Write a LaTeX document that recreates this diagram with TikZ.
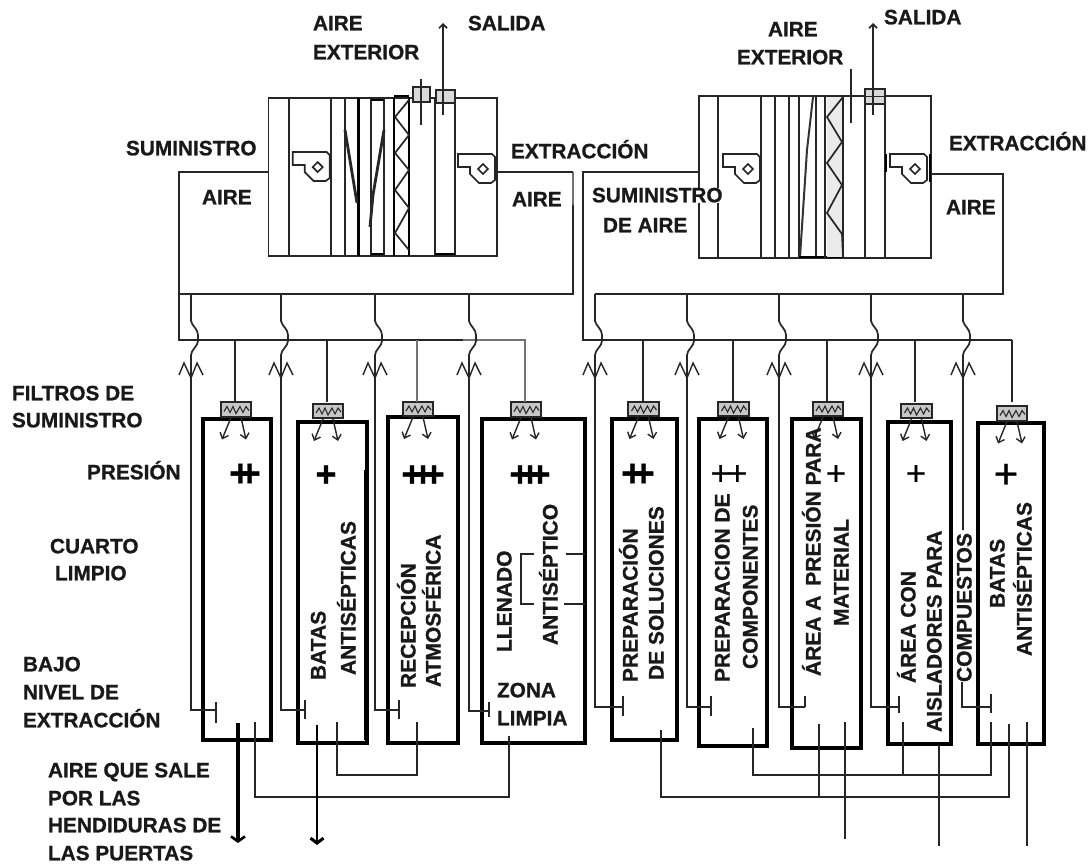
\documentclass[tikz,border=0pt]{standalone}
\usepackage{fontspec}
\setmainfont{Liberation Sans}[BoldFeatures={FakeBold=0.9}]
\usetikzlibrary{arrows.meta}
\tikzset{
  x=1pt,y=-1pt,
  lab/.style={inner sep=0pt,outer sep=0pt,anchor=base west,font=\fontsize{20.8}{20.8}\selectfont\bfseries,text=black!90},
  vlab/.style={inner sep=0pt,outer sep=0pt,anchor=base west,rotate=90,font=\fontsize{21}{21}\selectfont\bfseries,text=black!90},
  roombox/.style={draw=black,line width=3.6pt,inner sep=0pt,outer sep=0pt},
  filterbox/.style={draw=black!85,fill=black!22,line width=1.5pt,inner sep=0pt,outer sep=0pt},
  unitbox/.style={draw=black!85,line width=1.7pt,inner sep=0pt,outer sep=0pt},
  thinline/.style={draw=black!85,line width=1.7pt},
  fadedline/.style={draw=black!55,line width=1.7pt},
  sign/.style={inner sep=0pt,outer sep=0pt,anchor=center,text=black},
  branchtip/.style={-{Straight Barb[length=5pt,width=9pt]},draw=black!85,line width=1.4pt}
}
% name, x1, y1, x2, y2, style
\newcommand\boxnode[6]{\node[#6,minimum width={(#4-#2)*1pt},minimum height={(#5-#3)*1pt}] (#1) at ({(#2+#4)/2},{(#3+#5)/2}) {};}
% name, x, y, text
\newcommand\lbl[4]{\node[lab] (#1) at (#2,{#3+7.3}) {#4};}
% name, x centre, y bottom, text
\newcommand\vlbl[4]{\node[vlab] (#1) at ({#2+7.5},#3) {#4};}
% filter interior and its two outlets
\newcommand\filterdetail[1]{%
  \draw[draw=black!85,line width=1.1pt] ([shift={(-12,2)}]#1.center) -- ([shift={(-9,-3)}]#1.center) -- ([shift={(-6,3)}]#1.center) -- ([shift={(-3,-3)}]#1.center) -- ([shift={(0,4)}]#1.center) -- ([shift={(4,-3)}]#1.center) -- ([shift={(7,3)}]#1.center) -- ([shift={(10,-3)}]#1.center) -- ([shift={(13,1)}]#1.center);
  \draw[branchtip] ([shift={(-5,8)}]#1.center) -- ([shift={(-14,30)}]#1.center);
  \draw[branchtip] ([shift={(5,8)}]#1.center) -- ([shift={(10,30)}]#1.center);
}
% x origin, y origin
\newcommand\fan[2]{%
  \begin{scope}[shift={(#1,#2)}]
  \draw[thinline,fill=white] (0,0) -- (34,0) -- (37,3) -- (37,26) -- (33,29) -- (21,29) -- (12,20) -- (12,13) -- (0,13) -- cycle;
  \draw[thinline] (25,10) -- (30,15) -- (25,20) -- (20,15) -- cycle;
  \end{scope}}
\begin{document}
\begin{tikzpicture}
\useasboundingbox (0,0) rectangle (1090,865);
\fill[white] (0,0) rectangle (1090,865);

% ---- air handling units
\boxnode{ahua}{268.5}{98}{497}{256}{unitbox}
\boxnode{ahub}{699}{96}{931}{258}{unitbox}
\foreach \x in {289,331,345,371,384,435,455} \draw[thinline] (\x,98) -- (\x,256);
\draw[draw=black,line width=3pt] (358,98) -- (358,256);
\foreach \x in {394,409} \draw[draw=black,line width=2pt] (\x,97) -- (\x,256);
\draw[draw=black,line width=2.2pt] (394,96) -- (409,96);
\draw[draw=black,line width=2.2pt] (371,100) -- (384,100) (371,254) -- (384,254) (435,254) -- (455,254);
\draw[thinline] (409,100) -- (395,117) -- (409,135) -- (395,153) -- (409,170) -- (395,190) -- (409,208) -- (395,233) -- (409,250);
\draw[draw=black!85,line width=2.8pt] (345,130) -- (357,203);
\draw[draw=black!85,line width=2.8pt] (370,227) -- (373,195) -- (384,130);
\foreach \x in {718,761,775,789,799,816,825,843,865,885} \draw[thinline] (\x,96) -- (\x,258);
\draw[draw=black!80,line width=2pt] (813,97) -- (807,150) -- (800,257);
\draw[draw=black,line width=2pt] (799,257) -- (843,257);
\fill[black!8] (827,97) rectangle (842,257);
\draw[thinline] (825,96) -- (825,258) (843,96) -- (843,258);
\draw[thinline] (843,97) -- (827,117) -- (842,142) -- (827,163) -- (842,185) -- (827,213) -- (842,234) -- (843,257);
\fan{292.7}{152}
\fan{458}{154}
\fan{723}{154}
\fan{890}{154}
\draw[draw=black,line width=2.2pt] (886,154) -- (886,172);
\draw[draw=black,line width=2.8pt] (930,154) -- (930,182);

% ---- dampers, intake and outlet
\boxnode{dampa}{413}{87}{430}{102}{unitbox}
\boxnode{dampb}{436}{90}{455}{103}{unitbox}
\boxnode{dampc}{865}{89}{885}{104}{unitbox}
\fill[black!15] (dampa.south west) rectangle (dampa.north east);
\fill[black!15] (dampb.south west) rectangle (dampb.north east);
\fill[black!15] (dampc.south west) rectangle (dampc.north east);
\draw[unitbox] (dampa.south west) rectangle (dampa.north east);
\draw[unitbox] (dampb.south west) rectangle (dampb.north east);
\draw[unitbox] (dampc.south west) rectangle (dampc.north east);
\draw[thinline] (865,96.5) -- (885,96.5);
\coordinate (ina) at (421,79); \coordinate (inb) at (421,125);
\coordinate (inc) at (851,69); \coordinate (ind) at (851,123);
\draw[thinline] (ina) -- (inb);
\draw[thinline] (inc) -- (ind);
\coordinate (outa) at (443,115); \coordinate (outb) at (443,23);
\coordinate (outc) at (873,115); \coordinate (outd) at (873,23);
\draw[thinline,-{Straight Barb[length=4pt,width=8pt]}] (outa) -- (outb);
\draw[thinline,-{Straight Barb[length=4pt,width=8pt]}] (outc) -- (outd);

% ---- ducts
\coordinate (dca) at (179,172); \coordinate (dcb) at (179,294); \coordinate (dcc) at (573,294); \coordinate (dcd) at (573,172);
\coordinate (dce) at (179,340); \coordinate (dcf) at (463,340); \coordinate (dcg) at (525,340);
\draw[thinline] (ahua.west |- dca) -- (dca) -- (dcb) -- (dcc) -- (573,205);
\draw[fadedline] (573,205) -- (dcd);
\draw[thinline] (ahua.east |- dcd) -- (dcd);
\draw[thinline] (dcb) -- (dce) -- (dcf);

\coordinate (dda) at (583,172); \coordinate (ddb) at (583,340); \coordinate (ddc) at (1012,340);
\coordinate (dde) at (1003,174); \coordinate (ddf) at (1003,294); \coordinate (ddg) at (595,294);
\draw[thinline] (ahub.west |- dda) -- (dda) -- (ddb) -- (ddc);
\draw[thinline] (ahub.east |- dde) -- (dde) -- (ddf) -- (ddg);

% ---- rooms
\boxnode{ra}{203}{419}{271}{740}{roombox}
\boxnode{rb}{298}{422}{367}{743}{roombox}
\boxnode{rc}{388}{417}{458}{743}{roombox}
\boxnode{rd}{482}{419}{585}{743}{roombox}
\boxnode{re}{612}{419}{677}{740}{roombox}
\boxnode{rf}{699}{419}{767}{746}{roombox}
\boxnode{rg}{792}{419}{861}{748}{roombox}
\boxnode{rh}{888}{422}{951}{744}{roombox}
\boxnode{ri}{978}{423}{1044}{744}{roombox}
\draw[draw=black,line width=2pt] (365,470) -- (365,740);

% ---- supply filters
\boxnode{fa}{221}{402}{251}{417}{filterbox}
\boxnode{fb}{313}{404}{343}{418}{filterbox}
\boxnode{fc}{403}{402}{433}{416}{filterbox}
\boxnode{fd}{511}{402}{541}{417}{filterbox}
\boxnode{fe}{628}{402}{659}{416}{filterbox}
\boxnode{ff}{718}{402}{749}{416}{filterbox}
\boxnode{fg}{813}{402}{843}{416}{filterbox}
\boxnode{fh}{901}{404}{932}{418}{filterbox}
\boxnode{fi}{997}{406}{1027}{421}{filterbox}
\foreach \f in {fa,fb,fc,fd,fe,ff,fg,fh,fi} {\filterdetail{\f}}

% ---- supply branches
\foreach \f/\x in {fa/235,fb/327,fe/643,ff/733,fg/827,fh/915,fi/1012}
  \draw[thinline] (\x,340) -- (\x,402);
\draw[fadedline] (417,340) -- (417,402);
\draw[fadedline] (dcf) -- (dcg) -- (525,402);

% ---- extract drops with hump and T terminal
\foreach \x/\tx/\ty/\ba/\bb/\top in {191/216/710/702/723/294,281/305/710/700/719/294,375/399/710/700/719/294,469/489/711/702/717/294,595/623/707/696/716/294,687/711/707/696/716/294,779/805/707/696/707/294,871/899/707/696/713/294}
{
  \draw[thinline] (\x,\top) -- (\x,321) .. controls (\x+1,326) and ({\x+7},329) .. ({\x+7},335) -- ({\x+7},341) .. controls ({\x+7},346) and (\x,350) .. (\x,355) -- (\x,\ty) -- (\tx,\ty);
  \draw[thinline] (\tx,\ba) -- (\tx,\bb);
  \draw[draw=black!85,line width=1.4pt] ({\x-12},375) -- ({\x-7},363) -- (\x,378) -- ({\x+6},363) -- ({\x+12},375);
}
\draw[thinline] (963,294) -- (963,321) .. controls (964,326) and (970,329) .. (970,335) -- (970,341) .. controls (970,346) and (963,350) .. (963,355) -- (963,530);
\draw[draw=black!85,line width=1.4pt] (951,375) -- (956,363) -- (963,378) -- (969,363) -- (975,375);
\draw[thinline] (962,682) -- (962,707) -- (991,707);
\draw[thinline] (991,694) -- (991,713);

% ---- return / exhaust lines
\coordinate (ylow) at (0,775); \coordinate (yhigh) at (0,797);
\coordinate (xa) at (255,722); \coordinate (xb) at (509,736);
\coordinate (xc) at (337,722); \coordinate (xd) at (417,722);
\coordinate (xe) at (661,730); \coordinate (xf) at (1009,724);
\coordinate (xg) at (753,728); \coordinate (xh) at (991,722);
\coordinate (xi) at (819,724); \coordinate (xj) at (903,722);
\coordinate (xk) at (845,722); \coordinate (xl) at (845,839);
\coordinate (xm) at (939,745); \coordinate (xn) at (939,846);
\coordinate (xo) at (1027,722); \coordinate (xp) at (1027,846);
\coordinate (xq) at (238,723); \coordinate (xr) at (238,843);
\coordinate (xs) at (317,725); \coordinate (xt) at (317,845);
\draw[thinline] (xa) -- (xa |- yhigh) -- (xb |- yhigh) -- (xb);
\draw[thinline] (xc) -- (xc |- ylow) -- (xd |- ylow) -- (xd);
\draw[thinline] (xe) -- (xe |- yhigh) -- (xf |- yhigh) -- (xf);
\draw[thinline] (xg) -- (xg |- ylow) -- (xh |- ylow) -- (xh);
\draw[thinline] (xi) -- (xi |- yhigh);
\draw[thinline] (xj) -- (xj |- ylow);
\draw[thinline] (xk) -- (xl);
\draw[thinline] (xm) -- (xn);
\draw[thinline] (xo) -- (xp);
\draw[draw=black,line width=3.4pt,-{Straight Barb[length=5pt,width=14pt,line width=2.6pt]}] (xq) -- (xr);
\draw[draw=black,line width=2.2pt,-{Straight Barb[length=5pt,width=13pt,line width=3pt]}] (xs) -- (xt);

% ---- bracket in filling room
\coordinate (bra) at (534,554); \coordinate (brb) at (521,554); \coordinate (brc) at (521,604); \coordinate (brd) at (534,604);
\coordinate (bre) at (566,554); \coordinate (brf) at (564,604);
\draw[thinline] (bra) -- (brb) -- (brc) -- (brd);
\draw[thinline] (bre) -- (rd.east |- bre);
\draw[thinline] (brf) -- (rd.east |- brf);

% ---- pressure signs
\node[sign,font=\fontsize{38}{38}\selectfont\bfseries] (pa) at (245,475) {+\kern-13pt+};
\node[sign,font=\fontsize{36}{36}\selectfont\bfseries] (pb) at (326,476) {+};
\node[sign,font=\fontsize{36}{36}\selectfont\bfseries] (pc) at (423,476) {+\kern-10pt+\kern-10pt+};
\node[sign,font=\fontsize{36}{36}\selectfont\bfseries] (pd) at (530,476) {+\kern-11pt+\kern-11pt+};
\node[sign,font=\fontsize{38}{38}\selectfont\bfseries] (pe) at (638,475) {+\kern-11pt+};
\node[sign,font=\fontsize{34}{34}\selectfont\addfontfeatures{FakeBold=0.5}] (pf) at (729,475) {+\kern-3pt+};
\node[sign,font=\fontsize{34}{34}\selectfont\addfontfeatures{FakeBold=0.5}] (pg) at (836,475) {+};
\node[sign,font=\fontsize{34}{34}\selectfont\addfontfeatures{FakeBold=0.5}] (ph) at (916,475) {+};
\node[sign,font=\fontsize{42}{42}\selectfont\addfontfeatures{FakeBold=0.5}] (pi) at (1006,476) {+};

% ---- labels
\lbl{la}{313}{23}{AIRE}
\lbl{lb}{313}{52}{EXTERIOR}
\lbl{lc}{468}{23}{SALIDA}
\lbl{ld}{126}{148}{SUMINISTRO}
\lbl{le}{202}{197}{AIRE}
\lbl{lf}{511}{151}{EXTRACCIÓN}
\lbl{lg}{512}{199}{AIRE}
\lbl{lh}{768}{29}{AIRE}
\lbl{li}{737}{57}{EXTERIOR}
\lbl{lj}{884}{17}{SALIDA}
\lbl{lk}{949}{143}{EXTRACCIÓN}
\lbl{ll}{946}{207}{AIRE}
\node[lab,fill=white] (lm) at (592,{195+7.3}) {SUMINISTRO};
\lbl{ln}{603}{225}{DE AIRE}
\lbl{lo}{12}{393}{FILTROS DE}
\lbl{lp}{12}{420}{SUMINISTRO}
\lbl{lq}{87}{472}{PRESIÓN}
\lbl{lr}{50}{546}{CUARTO}
\lbl{ls}{55}{573}{LIMPIO}
\lbl{lt}{23}{664}{BAJO}
\lbl{lu}{23}{692}{NIVEL DE}
\lbl{lv}{23}{720}{EXTRACCIÓN}
\lbl{lw}{48}{770}{AIRE QUE SALE}
\lbl{lx}{48}{798}{POR LAS}
\lbl{ly}{48}{825}{HENDIDURAS DE}
\lbl{lz}{48}{853}{LAS PUERTAS}
\lbl{lzona}{497}{690}{ZONA}
\lbl{llimpia}{497}{718}{LIMPIA}

\vlbl{va}{318}{680}{BATAS}
\vlbl{vb}{348}{675}{ANTISÉPTICAS}
\vlbl{vc}{408}{688}{RECEPCIÓN}
\vlbl{vd}{433}{687}{ATMOSFÉRICA}
\vlbl{ve}{504}{652}{LLENADO}
\vlbl{vf}{550}{645}{ANTISÉPTICO}
\vlbl{vg}{630}{682}{PREPARACIÓN}
\vlbl{vh}{656}{680}{DE SOLUCIONES}
\vlbl{vi}{722}{682}{PREPARACION DE}
\vlbl{vj}{750}{669}{COMPONENTES}
\vlbl{vk}{813}{676}{ÁREA A\kern4pt\ PRESIÓN PARA}
\vlbl{vl}{841}{626}{MATERIAL}
\vlbl{vm}{908}{683}{ÁREA CON}
\vlbl{vn}{934}{732}{AISLADORES PARA}
\vlbl{vo}{964}{682}{COMPUESTOS}
\vlbl{vp}{997}{608}{BATAS}
\vlbl{vq}{1024}{656}{ANTISÉPTICAS}
\end{tikzpicture}
\end{document}
